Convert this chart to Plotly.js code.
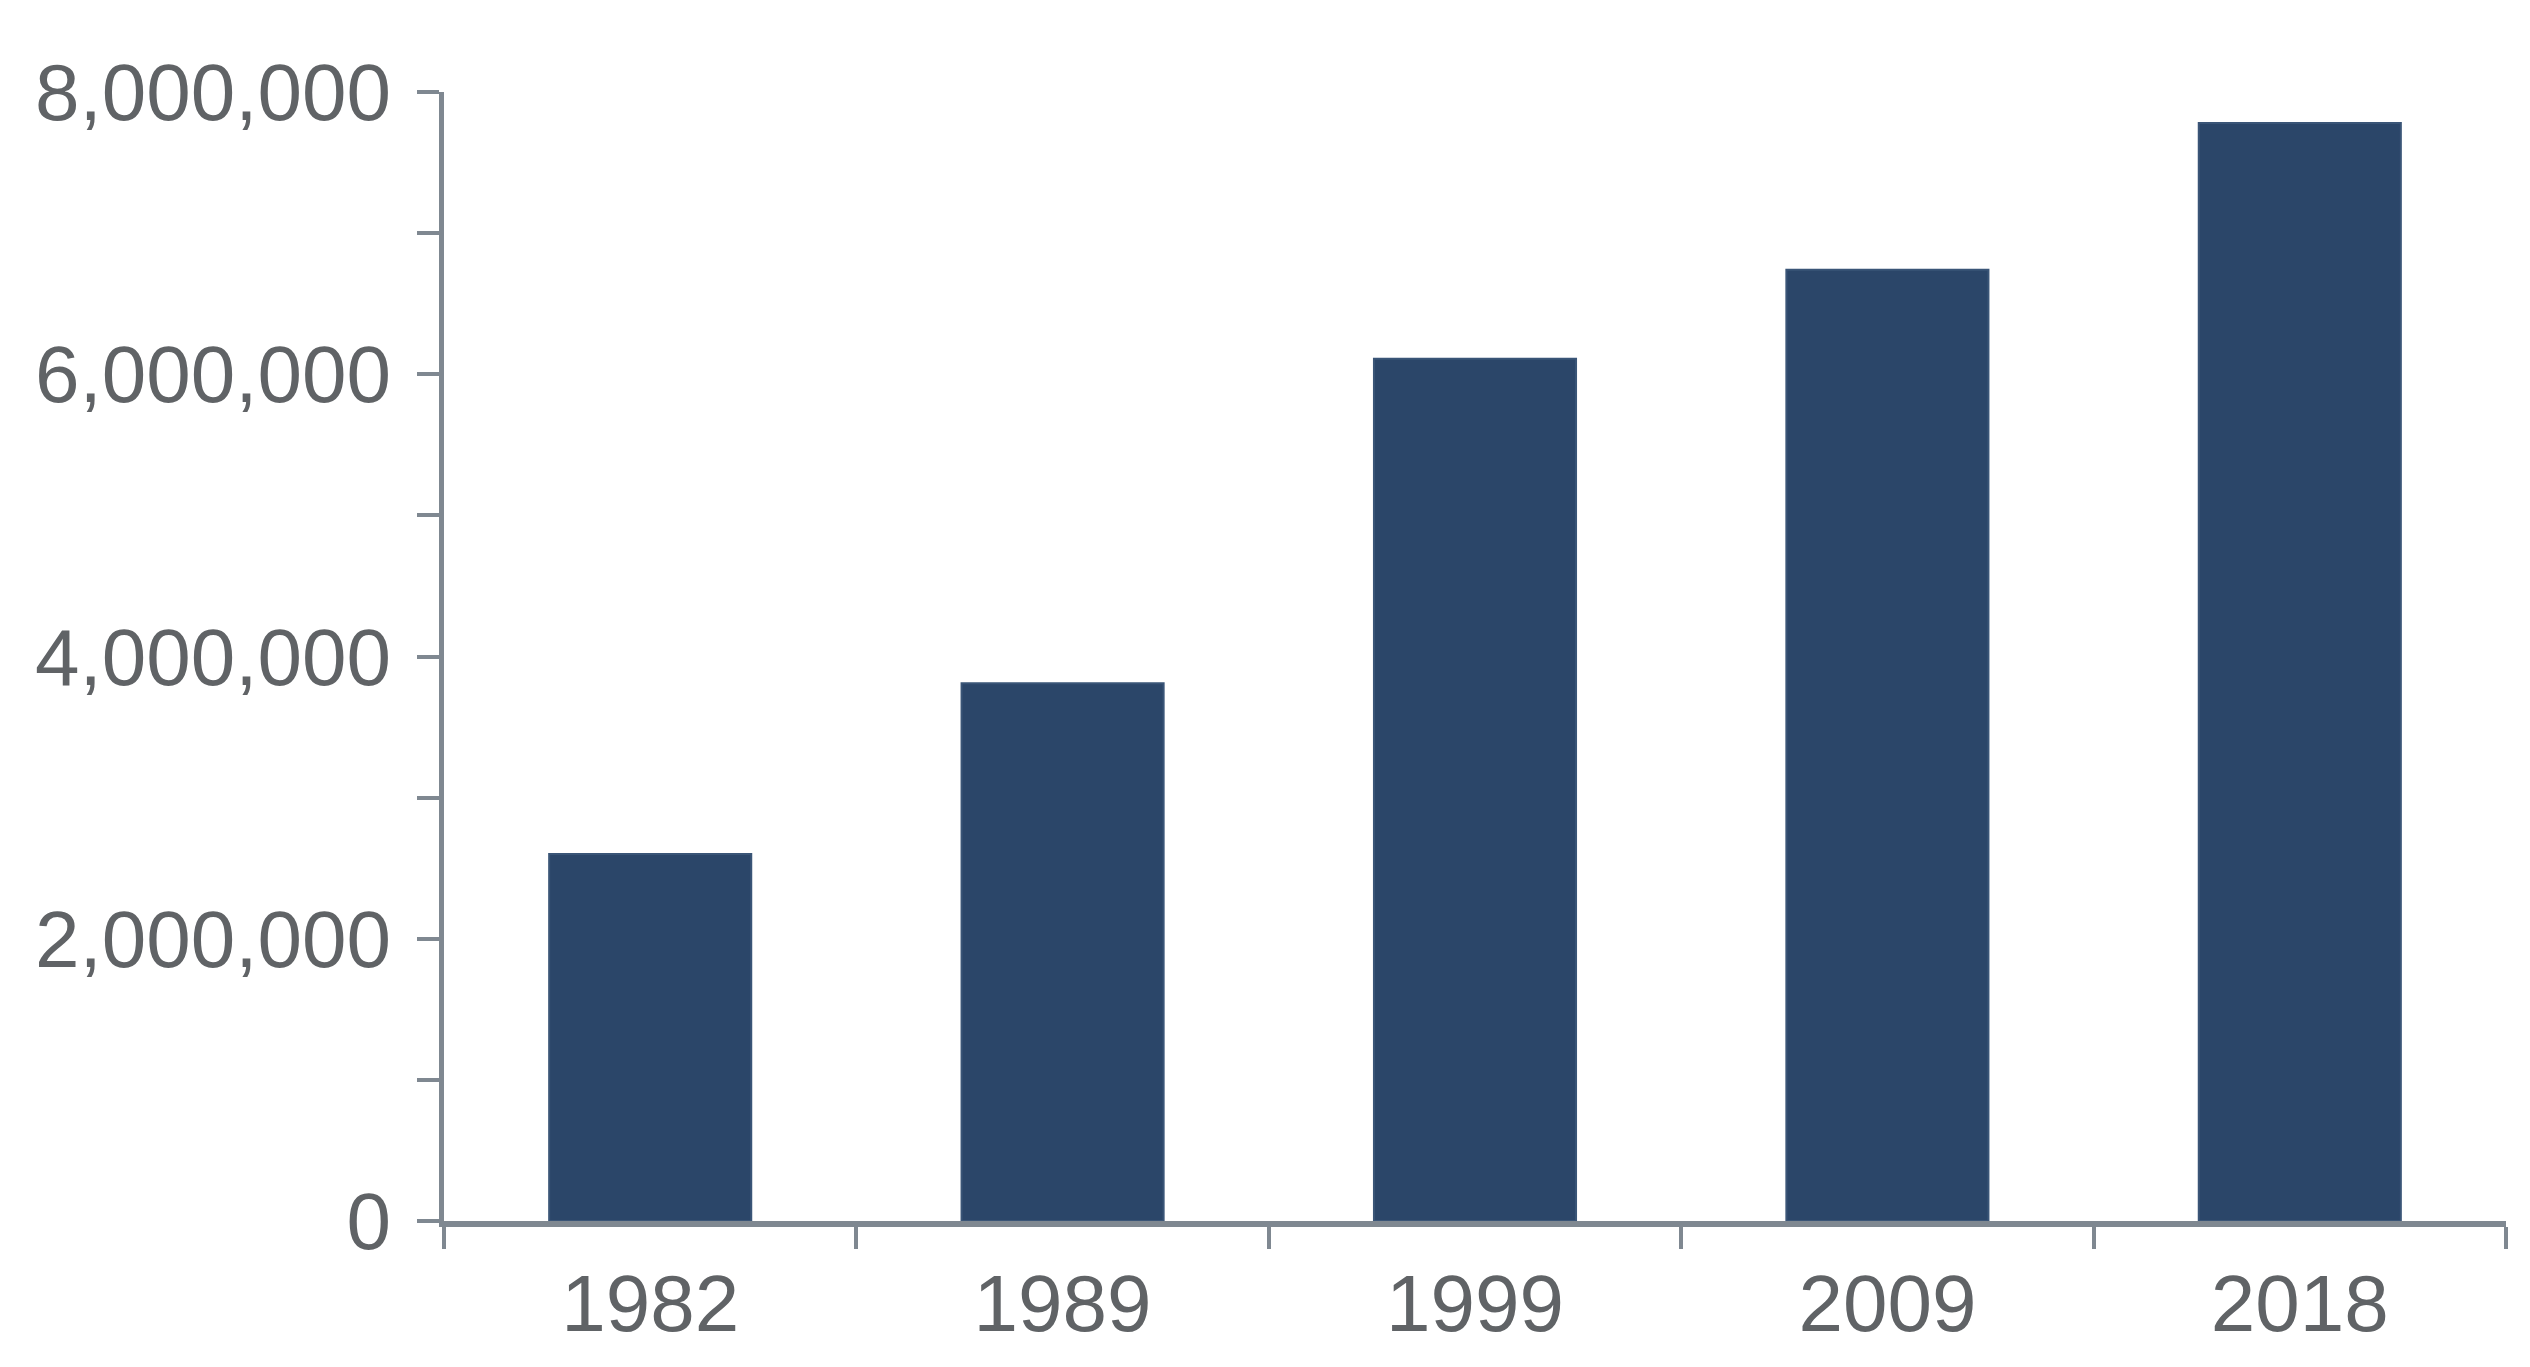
<!DOCTYPE html>
<html>
<head>
<meta charset="utf-8">
<script src="https://cdn.plot.ly/plotly-3.0.1.min.js"></script>
<style>html,body{margin:0;padding:0;background:#fff;}#chart{width:2530px;height:1367px;}</style>
</head>
<body>
<div id="chart"></div>
<script>
const years = ["1982", "1989", "1999", "2009", "2018"];
const values = [2600000, 3810000, 6110000, 6740000, 7780000];
const yTickValues = [0, 2000000, 4000000, 6000000, 8000000];

const axisColor = "#7f8891";
const labelColor = "#606366";
const barColor = "#2b4669";

const trace = {
  type: "bar",
  x: years,
  y: values,
  marker: {color: barColor, line: {color: "#3a5577", width: 2}},
  width: 0.49,
  hoverinfo: "x+y"
};

const layout = {
  width: 2530,
  height: 1367,
  paper_bgcolor: "#ffffff",
  plot_bgcolor: "#ffffff",
  margin: {l: 444, r: 24, t: 92, b: 146, pad: 0},
  showlegend: false,
  font: {family: "Liberation Sans, Arial, sans-serif", color: labelColor, size: 80},
  xaxis: {
    type: "category",
    range: [-0.5, 4.5],
    showline: true,
    linecolor: axisColor,
    linewidth: 6,
    ticks: "outside",
    tickson: "boundaries",
    ticklen: 22,
    tickwidth: 4,
    tickcolor: axisColor,
    showgrid: false,
    zeroline: false,
    tickfont: {size: 80, color: labelColor},
    ticklabelstandoff: 8
  },
  yaxis: {
    range: [0, 8000000],
    tickvals: yTickValues,
    tickformat: ",d",
    showline: true,
    linecolor: axisColor,
    linewidth: 5,
    ticks: "outside",
    ticklen: 22,
    tickwidth: 4,
    tickcolor: axisColor,
    minor: {dtick: 1000000, ticks: "outside", ticklen: 22, tickwidth: 4, tickcolor: axisColor},
    showgrid: false,
    zeroline: false,
    tickfont: {size: 80, color: labelColor},
    ticklabelstandoff: 10
  }
};

Plotly.newPlot("chart", [trace], layout, {displayModeBar: false, staticPlot: true});
</script>
</body>
</html>
